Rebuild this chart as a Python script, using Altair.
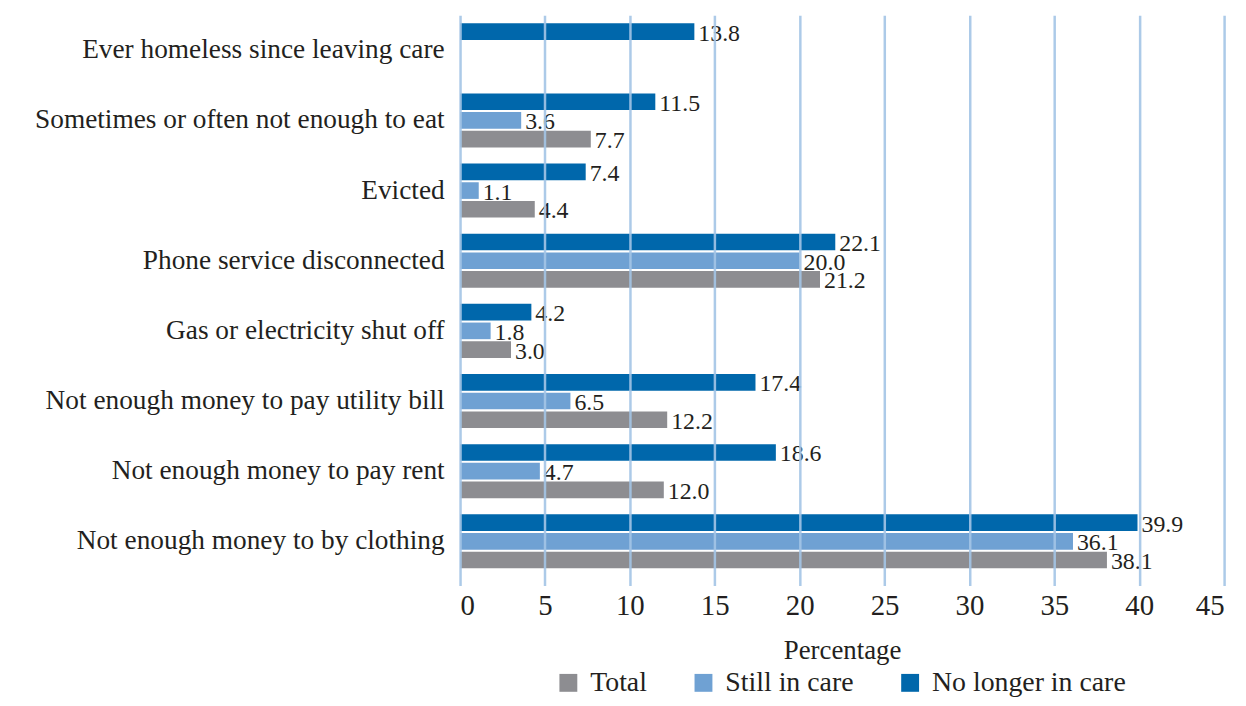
import altair as alt
import pandas as pd

categories = [
    "Ever homeless since leaving care",
    "Sometimes or often not enough to eat",
    "Evicted",
    "Phone service disconnected",
    "Gas or electricity shut off",
    "Not enough money to pay utility bill",
    "Not enough money to pay rent",
    "Not enough money to by clothing",
]
total = [None, 7.7, 4.4, 21.2, 3.0, 12.2, 12.0, 38.1]
still_in_care = [None, 3.6, 1.1, 20.0, 1.8, 6.5, 4.7, 36.1]
no_longer_in_care = [13.8, 11.5, 7.4, 22.1, 4.2, 17.4, 18.6, 39.9]

series = ["Total", "Still in care", "No longer in care"]
colors = ["#8d8d91", "#6fa1d3", "#0067ab"]
offset_order = ["No longer in care", "Still in care", "Total"]
x_ticks = [0, 5, 10, 15, 20, 25, 30, 35, 40, 45]

rows = []
for i, c in enumerate(categories):
    for s, vals in zip(series, [total, still_in_care, no_longer_in_care]):
        if vals[i] is not None:
            rows.append({"category": c, "series": s, "value": vals[i]})
df = pd.DataFrame(rows)

TXT = "#231f20"

x_enc = alt.X(
    "value:Q",
    scale=alt.Scale(domain=[0, 45], nice=False, zero=True),
    axis=alt.Axis(
        values=x_ticks,
        title="Percentage",
        grid=True,
        gridColor="#a3c4e6",
        gridWidth=2.5,
        gridOpacity=0.9,
        domain=False,
        ticks=False,
        labelFontSize=29,
        labelColor=TXT,
        labelPadding=6,
        titleFontSize=27,
        titleFontWeight="normal",
        titleColor=TXT,
        titlePadding=17,
        zindex=1,
    ),
)

base = alt.Chart(df).encode(
    y=alt.Y(
        "category:N",
        sort=categories,
        scale=alt.Scale(paddingInner=0.23, paddingOuter=0.18, align=0.32),
        axis=alt.Axis(
            title=None,
            labelFontSize=27.5,
            labelPadding=16,
            labelLimit=700,
            domain=False,
            ticks=False,
            grid=False,
            labelColor=TXT,
        ),
    ),
    yOffset=alt.YOffset(
        "series:N",
        sort=offset_order,
        scale=alt.Scale(domain=offset_order, paddingInner=0.11, paddingOuter=0),
    ),
)

bars = base.mark_bar().encode(
    x=x_enc,
    color=alt.Color(
        "series:N",
        scale=alt.Scale(domain=series, range=colors),
        legend=alt.Legend(
            title=None,
            orient="none",
            legendX=95,
            legendY=658,
            direction="horizontal",
            symbolType="square",
            symbolSize=324,
            symbolStrokeWidth=0,
            labelFontSize=28,
            labelColor=TXT,
            labelOffset=8,
            labelLimit=400,
            columnPadding=42,
            padding=0,
        ),
    ),
)

labels = base.mark_text(
    align="left", baseline="middle", dx=4, dy=2, fontSize=24, color=TXT
).encode(
    x=x_enc,
    text=alt.Text("value:Q", format=".1f"),
)

chart = (
    alt.layer(bars, labels)
    .properties(
        width=769,
        height=574,
        autosize=alt.AutoSizeParams(type="none"),
        padding={"left": 455, "top": 5, "right": 14, "bottom": 111},
    )
    .configure(font="Liberation Serif")
    .configure_view(stroke=None)
)

chart.save("out.html", embed_options={"renderer": "svg", "actions": False})
